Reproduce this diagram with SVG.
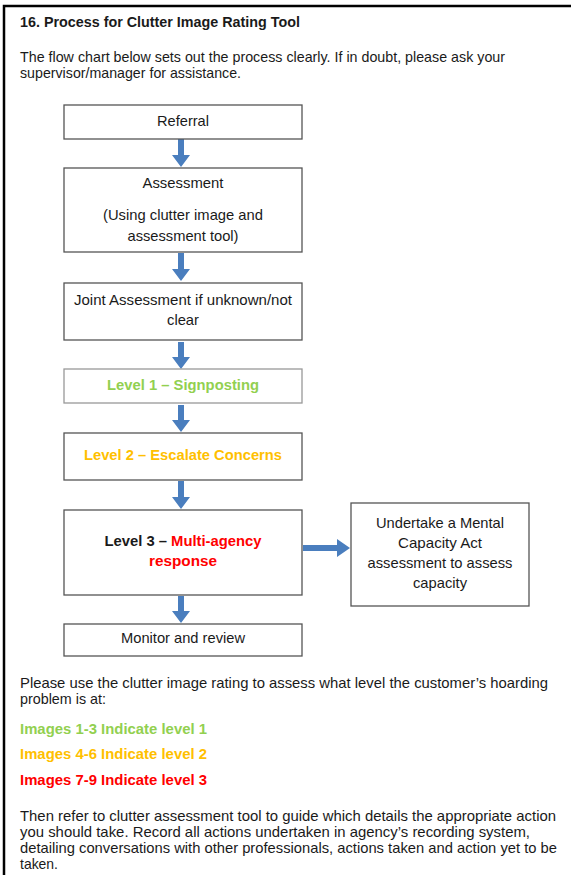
<svg xmlns="http://www.w3.org/2000/svg" width="571" height="875" viewBox="0 0 571 875">
<defs>
<style>
text{font-family:"Liberation Sans",Arial,sans-serif;font-size:14.4px;fill:#1a1a1a}
.c{text-anchor:middle}
.b{font-weight:bold}
.box{fill:#fff;stroke:#555;stroke-width:1.3}
.g{fill:#92D050}.o{fill:#FFC000}.r{fill:#FF0000}
.arr{fill:#4A7EBE}
</style>
</defs>
<rect x="0" y="0" width="571" height="875" fill="#fff"/>
<path d="M4 875 V6 H571" fill="none" stroke="#000" stroke-width="2.5"/>
<text x="20" y="27" class="b" textLength="280" lengthAdjust="spacingAndGlyphs">16. Process for Clutter Image Rating Tool</text>
<text x="20" y="62" textLength="485" lengthAdjust="spacingAndGlyphs">The flow chart below sets out the process clearly. If in doubt, please ask your</text>
<text x="20" y="78" textLength="221" lengthAdjust="spacingAndGlyphs">supervisor/manager for assistance.</text>

<g id="connectors">
<path class="arr" d="M178 139 h6 v16 h6 l-9 12 l-9 -12 h6z"/>
<path class="arr" d="M178 253 h6 v16 h6 l-9 12 l-9 -12 h6z"/>
<path class="arr" d="M178 342 h6 v15 h6 l-9 12 l-9 -12 h6z"/>
<path class="arr" d="M178 405 h6 v15 h6 l-9 12 l-9 -12 h6z"/>
<path class="arr" d="M178 481 h6 v16 h6 l-9 12 l-9 -12 h6z"/>
<path class="arr" d="M178 596 h6 v15 h6 l-9 12 l-9 -12 h6z"/>
<path class="arr" d="M303 545 h34 v-6 l13 9 l-13 9 v-6 h-34z"/>
</g>

<g id="referral"><rect class="box" x="64" y="105" width="238" height="34"/><text class="c" x="183" y="126" textLength="52" lengthAdjust="spacingAndGlyphs">Referral</text></g>
<g id="assessment"><rect class="box" x="64" y="168" width="238" height="84"/>
<text class="c" x="183" y="188" textLength="81" lengthAdjust="spacingAndGlyphs">Assessment</text>
<text class="c" x="183" y="220" textLength="160" lengthAdjust="spacingAndGlyphs">(Using clutter image and</text>
<text class="c" x="183" y="241" textLength="111" lengthAdjust="spacingAndGlyphs">assessment tool)</text></g>
<g id="joint"><rect class="box" x="64" y="283" width="238" height="57"/>
<text class="c" x="183" y="305" textLength="218" lengthAdjust="spacingAndGlyphs">Joint Assessment if unknown/not</text>
<text class="c" x="183" y="325" textLength="32" lengthAdjust="spacingAndGlyphs">clear</text></g>
<g id="level1"><rect class="box" x="64" y="369" width="238" height="34" style="stroke:#999"/>
<text class="c b g" x="183" y="390" textLength="152" lengthAdjust="spacingAndGlyphs">Level 1 – Signposting</text></g>
<g id="level2"><rect class="box" x="64" y="433" width="238" height="47"/>
<text class="c b o" x="183" y="460" textLength="198" lengthAdjust="spacingAndGlyphs">Level 2 – Escalate Concerns</text></g>
<g id="level3"><rect class="box" x="64" y="510" width="238" height="85"/>
<text class="c b" x="183" y="546" textLength="157" lengthAdjust="spacingAndGlyphs">Level 3 – <tspan class="r">Multi-agency</tspan></text>
<text class="c b r" x="183" y="566" textLength="68" lengthAdjust="spacingAndGlyphs">response</text></g>
<g id="monitor"><rect class="box" x="64" y="624" width="238" height="32"/>
<text class="c" x="183" y="643" textLength="124" lengthAdjust="spacingAndGlyphs">Monitor and review</text></g>
<g id="mca"><rect class="box" x="351" y="503" width="178" height="103"/>
<text class="c" x="440" y="528" textLength="128" lengthAdjust="spacingAndGlyphs">Undertake a Mental</text>
<text class="c" x="440" y="548" textLength="84" lengthAdjust="spacingAndGlyphs">Capacity Act</text>
<text class="c" x="440" y="568" textLength="145" lengthAdjust="spacingAndGlyphs">assessment to assess</text>
<text class="c" x="440" y="588" textLength="54" lengthAdjust="spacingAndGlyphs">capacity</text></g>

<text x="20" y="688" textLength="528" lengthAdjust="spacingAndGlyphs">Please use the clutter image rating to assess what level the customer’s hoarding</text>
<text x="20" y="704" textLength="86" lengthAdjust="spacingAndGlyphs">problem is at:</text>
<text x="20" y="734" class="b g" textLength="187" lengthAdjust="spacingAndGlyphs">Images 1-3 Indicate level 1</text>
<text x="20" y="759" class="b o" textLength="187" lengthAdjust="spacingAndGlyphs">Images 4-6 Indicate level 2</text>
<text x="20" y="785" class="b r" textLength="187" lengthAdjust="spacingAndGlyphs">Images 7-9 Indicate level 3</text>
<text x="20" y="821" textLength="536" lengthAdjust="spacingAndGlyphs">Then refer to clutter assessment tool to guide which details the appropriate action</text>
<text x="20" y="837" textLength="510" lengthAdjust="spacingAndGlyphs">you should take. Record all actions undertaken in agency’s recording system,</text>
<text x="20" y="853" textLength="537" lengthAdjust="spacingAndGlyphs">detailing conversations with other professionals, actions taken and action yet to be</text>
<text x="20" y="869" textLength="38" lengthAdjust="spacingAndGlyphs">taken.</text>
</svg>
